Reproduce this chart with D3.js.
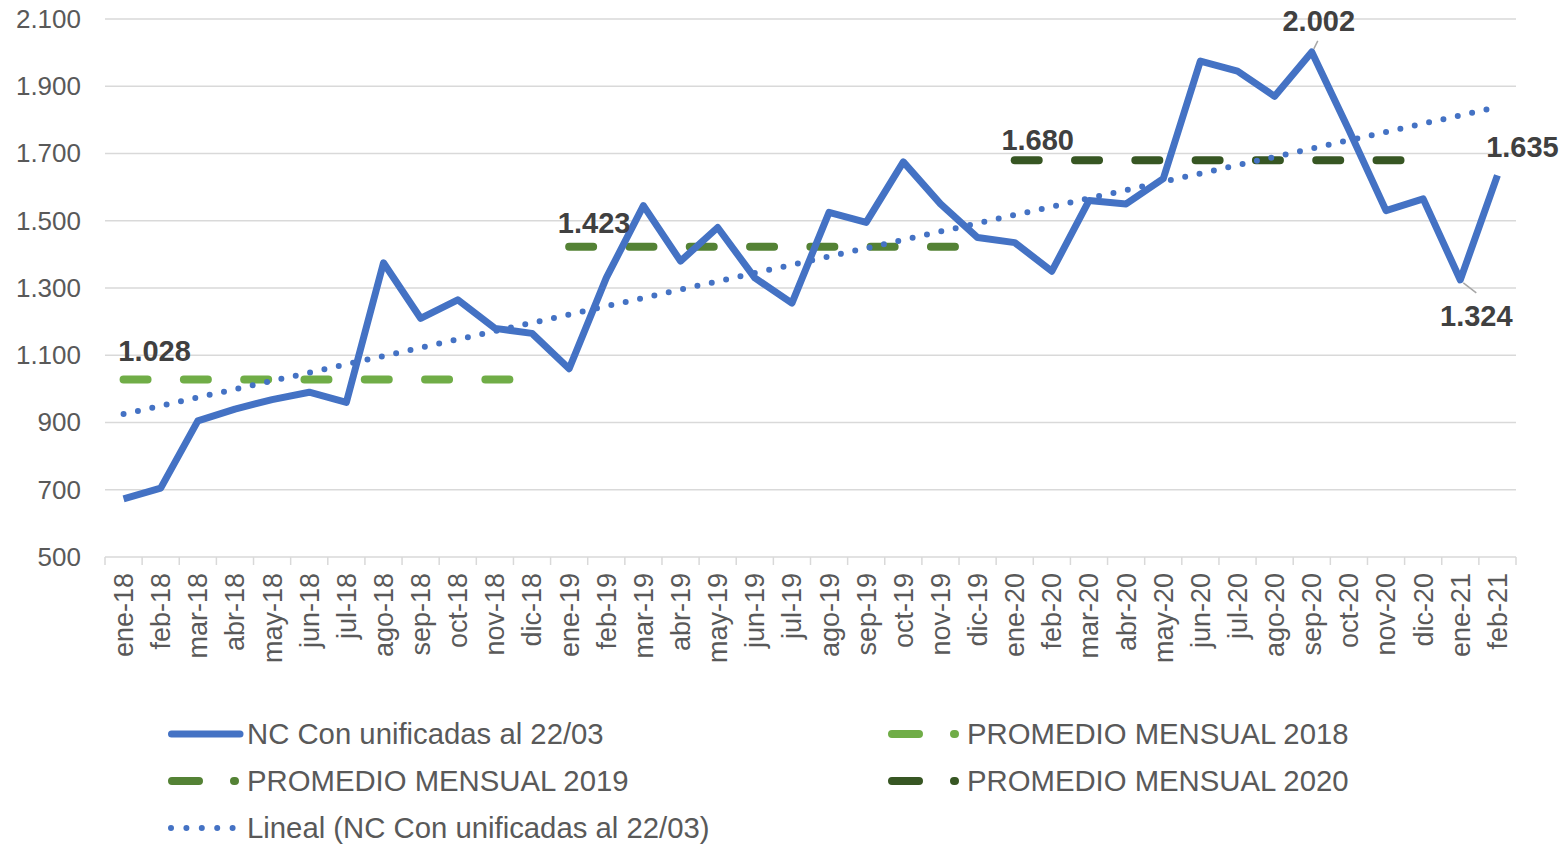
<!DOCTYPE html>
<html>
<head>
<meta charset="utf-8">
<script src="https://cdn.jsdelivr.net/npm/d3@7"></script>
<style>
  body { margin: 0; background: #fff; }
  svg { display: block; font-family: "Liberation Sans", Arial, sans-serif; }
</style>
</head>
<body>
<div class="svg-container"></div>
<script>
// chart data
const months = ['ene-18','feb-18','mar-18','abr-18','may-18','jun-18','jul-18','ago-18','sep-18','oct-18','nov-18','dic-18',
                'ene-19','feb-19','mar-19','abr-19','may-19','jun-19','jul-19','ago-19','sep-19','oct-19','nov-19','dic-19',
                'ene-20','feb-20','mar-20','abr-20','may-20','jun-20','jul-20','ago-20','sep-20','oct-20','nov-20','dic-20',
                'ene-21','feb-21'];
const ncValues = [673, 705, 905, 940, 968, 990, 960, 1375, 1210, 1265, 1180, 1165,
                  1060, 1330, 1545, 1380, 1480, 1330, 1255, 1525, 1495, 1675, 1550, 1450,
                  1435, 1350, 1560, 1550, 1625, 1975, 1945, 1870, 2002, 1770, 1530, 1565,
                  1324, 1635];
const avgYears = ['18', '19', '20'];
const avgValues = [1028, 1423, 1680];
const trendEnds = [925, 1838];   // linear trend at ene-18 and feb-21
const yTicks = [500, 700, 900, 1100, 1300, 1500, 1700, 1900, 2100];
const seriesNames = ['NC Con unificadas al 22/03', 'PROMEDIO MENSUAL 2018', 'PROMEDIO MENSUAL 2019',
                     'PROMEDIO MENSUAL 2020', 'Lineal (NC Con unificadas al 22/03)'];

const W = 1562, H = 844;
const margin = {top: 19, right: 46, bottom: 287, left: 105};
const blue = '#4472C4';
const avgColors = ['#70AD47', '#548235', '#375623'];
const fmt = v => d3.format(',')(v).replace(/,/g, '.');

const svg = d3.select('.svg-container').append('svg')
    .attr('width', W).attr('height', H);

const x = d3.scaleBand().domain(months).range([margin.left, W - margin.right]).padding(0);
const cx = m => x(m) + x.bandwidth() / 2;
const y = d3.scaleLinear().domain([500, 2100]).range([H - margin.bottom, margin.top]);

// gridlines
svg.append('g').selectAll('line')
    .data(yTicks.slice(1)).enter().append('line')
    .attr('x1', margin.left).attr('x2', W - margin.right)
    .attr('y1', d => y(d)).attr('y2', d => y(d))
    .attr('stroke', '#d9d9d9').attr('stroke-width', 1.5);

// y axis labels
const yAxis = svg.append('g')
    .attr('transform', `translate(${margin.left},0)`)
    .call(d3.axisLeft(y).tickValues(yTicks).tickSize(0).tickPadding(24).tickFormat(fmt));
yAxis.select('.domain').remove();
yAxis.selectAll('text').attr('fill', '#595959').style('font-size', '26px')
    .style('font-family', '"Liberation Sans", Arial, sans-serif');

// x axis
const x0 = y(500);
const xAxis = svg.append('g')
    .attr('transform', `translate(0,${x0})`)
    .call(d3.axisBottom(x).tickSize(0));
xAxis.select('.domain').remove();
xAxis.selectAll('.tick text')
    .attr('transform', 'rotate(-90)')
    .attr('text-anchor', 'end')
    .attr('x', -16).attr('y', 0).attr('dy', '0.35em')
    .attr('fill', '#595959').style('font-size', '27px')
    .style('font-family', '"Liberation Sans", Arial, sans-serif');
svg.append('line')
    .attr('x1', margin.left).attr('x2', W - margin.right)
    .attr('y1', x0).attr('y2', x0)
    .attr('stroke', '#d9d9d9').attr('stroke-width', 1.5);
svg.append('g').selectAll('line')
    .data(months.map(m => x(m)).concat([W - margin.right])).enter().append('line')
    .attr('x1', d => d).attr('x2', d => d)
    .attr('y1', x0).attr('y2', x0 + 8)
    .attr('stroke', '#d9d9d9').attr('stroke-width', 1.5);

// yearly averages
avgYears.forEach(function (yr, i) {
    const first = 'ene-' + yr, last = 'dic-' + yr;
    svg.append('line')
        .attr('x1', cx(first)).attr('x2', cx(last))
        .attr('y1', y(avgValues[i])).attr('y2', y(avgValues[i]))
        .attr('stroke', avgColors[i]).attr('stroke-width', 8)
        .attr('stroke-linecap', 'round')
        .attr('stroke-dasharray', '24 36.3');
});

// trend line
svg.append('line')
    .attr('x1', cx(months[0])).attr('x2', cx(months[months.length - 1]))
    .attr('y1', y(trendEnds[0])).attr('y2', y(trendEnds[1]))
    .attr('stroke', blue).attr('stroke-width', 6)
    .attr('stroke-linecap', 'round')
    .attr('stroke-dasharray', '0 14.7');

// main series
const line = d3.line().x(d => cx(d[0])).y(d => y(d[1]));
svg.append('path')
    .datum(months.map((m, i) => [m, ncValues[i]]))
    .attr('d', line)
    .attr('fill', 'none').attr('stroke', blue).attr('stroke-width', 7)
    .attr('stroke-linejoin', 'round');

// data labels
const labels = [
    {m: 'ene-18', v: avgValues[0], dx: 31, dy: -18},
    {m: 'ene-19', v: avgValues[1], dx: 25, dy: -14},
    {m: 'ene-20', v: avgValues[2], dx: 23, dy: -10},
    {m: 'sep-20', v: ncValues[months.indexOf('sep-20')], dx: 7, dy: -21, leader: [[2, -3], [6, -11]]},
    {m: 'feb-21', v: ncValues[months.indexOf('feb-21')], dx: 25, dy: -18},
    {m: 'ene-21', v: ncValues[months.indexOf('ene-21')], dx: 16, dy: 46, leader: [[3, 3], [16, 13]]}
];
labels.forEach(function (d) {
    const px = cx(d.m), py = y(d.v);
    if (d.leader) {
        svg.append('line')
            .attr('x1', px + d.leader[0][0]).attr('y1', py + d.leader[0][1])
            .attr('x2', px + d.leader[1][0]).attr('y2', py + d.leader[1][1])
            .attr('stroke', '#a6a6a6').attr('stroke-width', 1.5);
    }
    svg.append('text')
        .attr('x', px + d.dx).attr('y', py + d.dy)
        .attr('text-anchor', 'middle')
        .attr('fill', '#404040')
        .style('font-size', '29px').style('font-weight', 'bold')
        .text(fmt(d.v));
});

// legend
const legendItems = [
    {name: seriesNames[0], x: 168, y: 734, type: 'solid', color: blue},
    {name: seriesNames[1], x: 888, y: 734, type: 'dash', color: avgColors[0]},
    {name: seriesNames[2], x: 168, y: 781, type: 'dash', color: avgColors[1]},
    {name: seriesNames[3], x: 888, y: 781, type: 'dash', color: avgColors[2]},
    {name: seriesNames[4], x: 168, y: 828, type: 'dot', color: blue}
];
const lg = svg.append('g').attr('class', 'legend');
legendItems.forEach(function (d) {
    const sym = lg.append('line')
        .attr('y1', d.y).attr('y2', d.y)
        .attr('stroke', d.color).attr('stroke-linecap', 'round');
    if (d.type === 'solid') {
        sym.attr('x1', d.x + 3.5).attr('x2', d.x + 72).attr('stroke-width', 7);
    } else if (d.type === 'dash') {
        sym.attr('x1', d.x + 4).attr('x2', d.x + 67).attr('stroke-width', 8)
           .attr('stroke-dasharray', '27 35');
    } else {
        sym.attr('x1', d.x + 3).attr('x2', d.x + 65).attr('stroke-width', 6)
           .attr('stroke-dasharray', '0 15.4');
    }
    lg.append('text')
        .attr('x', d.x + 79).attr('y', d.y).attr('dy', '0.35em')
        .attr('fill', '#595959').style('font-size', '29.3px')
        .text(d.name);
});
</script>
</body>
</html>
